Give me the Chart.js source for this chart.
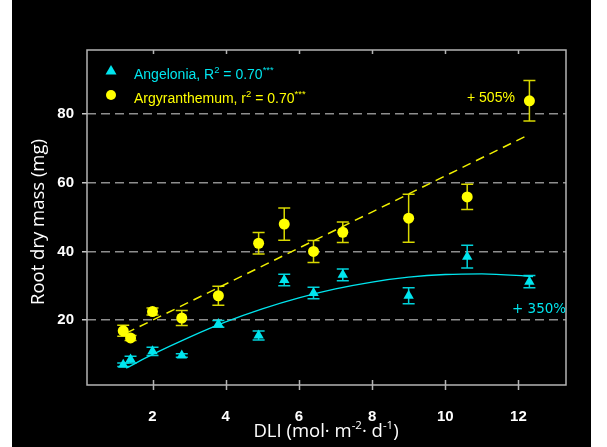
<!DOCTYPE html>
<html>
<head>
<meta charset="utf-8">
<script src="https://cdn.jsdelivr.net/npm/chart.js@4/dist/chart.umd.min.js"></script>
<style>
  html, body { margin: 0; padding: 0; background: #fff; }
  canvas { display: block; }
</style>
</head>
<body>
<canvas id="rootChart" width="607" height="447"></canvas>
<script>
    // DLI levels (mol m-2 d-1)
    const dli = [1.2, 1.4, 2.0, 2.8, 3.8, 4.9, 5.6, 6.4, 7.2, 9.0, 10.6, 12.3];
    // Root dry mass (mg) and error bars
    const angelonia = [7.0, 8.5, 10.9, 9.7, 18.9, 15.5, 31.7, 27.9, 33.2, 27.1, 38.5, 31.2];
    const angeloniaErr = [0.5, 1.0, 1.2, 0.5, 1.0, 1.3, 1.7, 1.7, 1.7, 2.3, 3.3, 1.8];
    const argyranthemum = [16.9, 14.8, 22.5, 20.6, 27.1, 42.4, 48.0, 40.0, 45.6, 49.7, 55.9, 83.9];
    const argyranthemumErr = [1.6, 0.7, 1.0, 2.2, 2.8, 3.1, 4.7, 3.2, 3.0, 7.0, 3.7, 5.9];

    // fitted curves
    const angeloniaFitX = [1.28, 2, 3, 4, 5, 6, 7, 8, 9, 10, 11, 12.4];
    const angeloniaFitY = [6.0, 10.0, 15.0, 19.5, 23.3, 26.5, 29.1, 31.1, 32.5, 33.3, 33.5, 32.7];
    const argyranthemumFitX = [1.28, 12.3];
    const argyranthemumFitY = [16.2, 74.1];

    const xTicks = [2, 4, 6, 8, 10, 12];
    const yTicks = [20, 40, 60, 80];

    const CYAN = '#00E5EE';
    const YELLOW = '#FFFF00';

    function pts(xs, ys) {
        return xs.map((x, i) => ({ x: x, y: ys[i] }));
    }

    // text with superscripts, parts = [[text, isSup], ...]
    function richText(ctx, parts, x, y, size, family, align, supScale) {
        supScale = supScale || 0.62;
        let w = 0;
        parts.forEach(p => {
            ctx.font = (p[1] ? size * supScale : size) + 'px ' + family;
            w += ctx.measureText(p[0]).width;
        });
        if (align === 'center') x -= w / 2;
        ctx.textAlign = 'left';
        ctx.textBaseline = 'alphabetic';
        parts.forEach(p => {
            ctx.font = (p[1] ? size * supScale : size) + 'px ' + family;
            ctx.fillText(p[0], x, p[1] ? y - size * 0.45 : y);
            x += ctx.measureText(p[0]).width;
        });
    }

    const background = {
        id: 'background',
        beforeDraw(chart) {
            const ctx = chart.ctx;
            ctx.save();
            ctx.fillStyle = '#000';
            ctx.fillRect(12, 0, 579, chart.height);
            ctx.restore();
        }
    };

    const errorBars = {
        id: 'errorBars',
        beforeDatasetsDraw(chart) {
            const ctx = chart.ctx;
            const xs = chart.scales.x, ys = chart.scales.y;
            const sets = [[angelonia, angeloniaErr, '#00D2DA'], [argyranthemum, argyranthemumErr, '#D8D800']];
            ctx.save();
            ctx.lineWidth = 1.5;
            sets.forEach(s => {
                ctx.strokeStyle = s[2];
                dli.forEach((d, i) => {
                    const px = xs.getPixelForValue(d);
                    const top = ys.getPixelForValue(s[0][i] + s[1][i]);
                    const bot = ys.getPixelForValue(s[0][i] - s[1][i]);
                    ctx.beginPath();
                    ctx.moveTo(px, top); ctx.lineTo(px, bot);
                    ctx.moveTo(px - 6, top); ctx.lineTo(px + 6, top);
                    ctx.moveTo(px - 6, bot); ctx.lineTo(px + 6, bot);
                    ctx.stroke();
                });
            });
            ctx.restore();
        }
    };

    const frame = {
        id: 'frame',
        afterDraw(chart) {
            const ctx = chart.ctx;
            const a = chart.chartArea;
            const xs = chart.scales.x;
            const sans = '"Liberation Sans", Arial, sans-serif';
            ctx.save();
            ctx.strokeStyle = '#b4b4b4';
            ctx.lineWidth = 1.5;
            ctx.strokeRect(a.left, a.top, a.right - a.left, a.bottom - a.top);
            ctx.beginPath();
            xTicks.forEach(t => {
                const px = Math.round(xs.getPixelForValue(t)) + 0.5;
                ctx.moveTo(px, a.bottom - 5); ctx.lineTo(px, a.bottom + 5);
                ctx.moveTo(px, a.top); ctx.lineTo(px, a.top + 4);
            });
            ctx.stroke();

            // legend
            ctx.fillStyle = CYAN;
            ctx.beginPath();
            ctx.moveTo(111, 65); ctx.lineTo(116.5, 74.5); ctx.lineTo(105.5, 74.5);
            ctx.closePath(); ctx.fill();
            richText(ctx, [['Angelonia, R'], ['2', true], [' = 0.70'], ['***', true]], 134, 79, 14, sans, 'left', 0.68);
            ctx.fillStyle = YELLOW;
            ctx.beginPath();
            ctx.arc(111, 95, 5, 0, Math.PI * 2);
            ctx.fill();
            richText(ctx, [['Argyranthemum, r'], ['2', true], [' = 0.70'], ['***', true]], 134, 103, 14, sans, 'left', 0.68);

            // annotations
            ctx.fillStyle = YELLOW;
            richText(ctx, [['+ 505%']], 467, 102, 14, sans);
            ctx.fillStyle = CYAN;
            richText(ctx, [['+ 350%']], 512, 313, 13.5, '"DejaVu Sans", sans-serif');

            // axis titles
            ctx.fillStyle = '#fff';
            richText(ctx, [['DLI (mol\u00b7 m'], ['-2', true], ['\u00b7 d'], ['-1', true], [')']], 326, 437, 18.5, '"Open Sans", sans-serif', 'center');
            ctx.translate(44, 222);
            ctx.rotate(-Math.PI / 2);
            richText(ctx, [['Root dry mass (mg)']], 0, 0, 18.5, '"Open Sans", sans-serif', 'center');
            ctx.restore();
        }
    };

    const ctxChart = document.getElementById('rootChart').getContext('2d');
    const rootChart = new Chart(ctxChart, {
        type: 'scatter',
        data: {
            datasets: [{
                label: 'Angelonia',
                data: pts(dli, angelonia),
                pointStyle: 'triangle',
                pointRadius: 6,
                backgroundColor: CYAN,
                borderColor: CYAN,
                borderWidth: 0
            }, {
                label: 'Argyranthemum',
                data: pts(dli, argyranthemum),
                pointStyle: 'circle',
                pointRadius: 5.5,
                backgroundColor: YELLOW,
                borderColor: YELLOW,
                borderWidth: 0
            }, {
                label: 'Angelonia fit',
                data: pts(angeloniaFitX, angeloniaFitY),
                showLine: true,
                pointRadius: 0,
                borderColor: CYAN,
                borderWidth: 1.3,
                cubicInterpolationMode: 'monotone'
            }, {
                label: 'Argyranthemum fit',
                data: pts(argyranthemumFitX, argyranthemumFitY),
                showLine: true,
                pointRadius: 0,
                borderColor: '#F0F000',
                borderWidth: 1.5,
                borderDash: [9, 6]
            }]
        },
        options: {
            responsive: false,
            animation: false,
            layout: { padding: { left: 0, right: 41, top: 50, bottom: 0 } },
            plugins: {
                legend: { display: false },
                tooltip: { enabled: false }
            },
            scales: {
                x: {
                    type: 'linear',
                    min: 0.21,
                    max: 13.3,
                    afterBuildTicks: s => { s.ticks = xTicks.map(v => ({ value: v })); },
                    afterFit: s => { s.height = 62; },
                    grid: { display: false },
                    border: { display: false },
                    ticks: {
                        color: '#fff',
                        padding: 15,
                        font: { family: '"Liberation Sans", Arial, sans-serif', size: 15, weight: 'bold' }
                    }
                },
                y: {
                    min: 1.1,
                    max: 98.7,
                    afterBuildTicks: s => { s.ticks = yTicks.map(v => ({ value: v })); },
                    afterFit: s => { s.width = 87; },
                    grid: {
                        color: '#8e8e8e',
                        lineWidth: 1.5,
                        drawTicks: true,
                        tickLength: 5,
                        tickColor: '#c8c8c8',
                        tickWidth: 1.5
                    },
                    border: { display: false, dash: [9, 5] },
                    ticks: {
                        color: '#fff',
                        padding: 8,
                        font: { family: '"Liberation Sans", Arial, sans-serif', size: 15, weight: 'bold' }
                    }
                }
            }
        },
        plugins: [background, errorBars, frame]
    });
</script>
</body>
</html>
